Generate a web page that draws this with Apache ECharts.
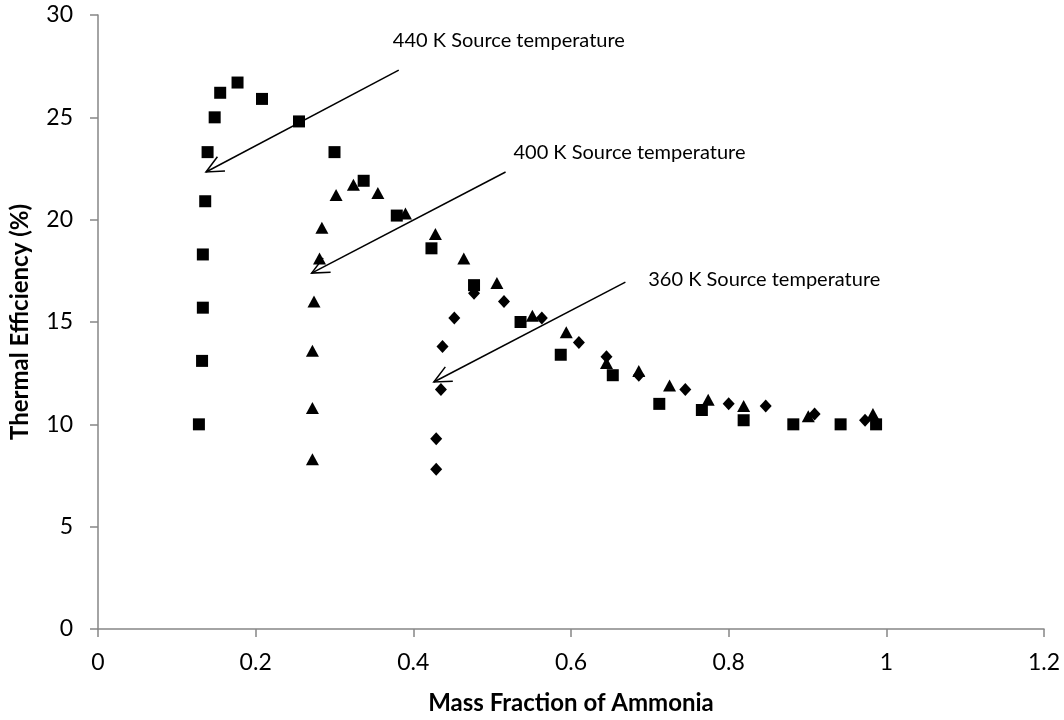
<!DOCTYPE html>
<html>
<head>
<meta charset="utf-8">
<script src="https://cdn.jsdelivr.net/npm/echarts@6/dist/echarts.min.js"></script>
<style>html,body{margin:0;padding:0;background:#fff}#c{width:1064px;height:720px}</style>
</head>
<body>
<div id="c"></div>
<script>
// 440 K source temperature (squares)
var sq440 = [[0.128,10.0],[0.132,13.1],[0.133,15.7],[0.133,18.3],[0.136,20.9],[0.139,23.3],[0.148,25.0],[0.155,26.2],[0.177,26.7],[0.208,25.9],[0.255,24.8],[0.300,23.3],[0.337,21.9],[0.379,20.2],[0.423,18.6],[0.477,16.8],[0.536,15.0],[0.587,13.4],[0.653,12.4],[0.712,11.0],[0.766,10.7],[0.819,10.2],[0.882,10.0],[0.942,10.0],[0.987,10.0]];
// 400 K source temperature (triangles)
var tri400 = [[0.272,8.3],[0.272,10.8],[0.272,13.6],[0.274,16.0],[0.281,18.1],[0.284,19.6],[0.302,21.2],[0.324,21.7],[0.355,21.3],[0.390,20.3],[0.428,19.3],[0.464,18.1],[0.506,16.9],[0.551,15.3],[0.594,14.5],[0.645,13.0],[0.686,12.6],[0.725,11.9],[0.774,11.2],[0.819,10.9],[0.901,10.4],[0.983,10.5]];
// 360 K source temperature (diamonds)
var dia360 = [[0.429,7.8],[0.429,9.3],[0.435,11.7],[0.437,13.8],[0.452,15.2],[0.477,16.4],[0.515,16.0],[0.563,15.2],[0.610,14.0],[0.645,13.3],[0.686,12.4],[0.745,11.7],[0.800,11.0],[0.847,10.9],[0.909,10.5],[0.973,10.2]];

// annotations: arrow tail -> tip (data coords) and label anchor
var arrowLabels = ['440 K Source temperature','400 K Source temperature','360 K Source temperature'];
var arrowTails = [[0.3815,27.31],[0.517,22.33],[0.669,16.95]];
var arrowTips = [[0.137,22.33],[0.271,17.39],[0.426,12.07]];
var labelAnchors = [[0.374,28.77],[0.527,23.3],[0.698,17.05]];

var xTitle = 'Mass Fraction of Ammonia';
var yTitle = 'Thermal Efficiency (%)';

var arrowData = arrowLabels.map(function(t,i){
  return [arrowTails[i][0],arrowTails[i][1],arrowTips[i][0],arrowTips[i][1],labelAnchors[i][0],labelAnchors[i][1],i];
});

var FONT = 'Lato';
var axisGray = '#868686';
var chart = echarts.init(document.getElementById('c'));
chart.setOption({
  animation:false,
  backgroundColor:'#fff',
  grid:{left:97,right:20,top:15,bottom:91,containLabel:false},
  xAxis:{type:'value',min:0,max:1.2,interval:0.2,
    name:xTitle,nameLocation:'middle',nameGap:62,
    nameTextStyle:{fontFamily:FONT,fontWeight:'bold',fontSize:24,color:'#000'},
    axisLine:{lineStyle:{color:axisGray,width:1.5}},
    axisTick:{show:true,inside:false,length:8,lineStyle:{color:axisGray,width:1.5}},
    axisLabel:{fontFamily:FONT,fontSize:23,color:'#000',margin:22,
      formatter:function(v){return String(Math.round(v*10)/10);}},
    splitLine:{show:false}},
  yAxis:{type:'value',min:0,max:30,interval:5,
    name:yTitle,nameLocation:'middle',nameGap:66,nameRotate:90,
    nameTextStyle:{fontFamily:FONT,fontWeight:'bold',fontSize:24,color:'#000'},
    axisLine:{show:true,lineStyle:{color:axisGray,width:1.5}},
    axisTick:{show:true,inside:false,length:8,lineStyle:{color:axisGray,width:1.5}},
    axisLabel:{fontFamily:FONT,fontSize:23,color:'#000',margin:25},
    splitLine:{show:false}},
  series:[
    {type:'scatter',name:'440 K',data:sq440,symbol:'rect',symbolSize:12,itemStyle:{color:'#000',opacity:1}},
    {type:'scatter',name:'400 K',data:tri400,symbol:'triangle',symbolSize:[13,12],itemStyle:{color:'#000',opacity:1}},
    {type:'scatter',name:'360 K',data:dia360,symbol:'diamond',symbolSize:[12,13],itemStyle:{color:'#000',opacity:1}},
    {type:'custom',name:'annotations',data:arrowData,z:5,
      renderItem:function(params,api){
        var tail = api.coord([api.value(0),api.value(1)]);
        var tip = api.coord([api.value(2),api.value(3)]);
        var lab = api.coord([api.value(4),api.value(5)]);
        var idx = api.value(6);
        var ang = Math.atan2(tail[1]-tip[1],tail[0]-tip[0]);
        var L = 19, a = 0.44;
        var p1 = [tip[0]+L*Math.cos(ang+a), tip[1]+L*Math.sin(ang+a)];
        var p2 = [tip[0]+L*Math.cos(ang-a), tip[1]+L*Math.sin(ang-a)];
        return {type:'group',children:[
          {type:'line',shape:{x1:tail[0],y1:tail[1],x2:tip[0],y2:tip[1]},style:{stroke:'#000',lineWidth:1.5}},
          {type:'polyline',shape:{points:[p1,tip,p2]},style:{stroke:'#000',lineWidth:1.5,fill:null}},
          {type:'text',x:lab[0],y:lab[1],style:{text:arrowLabels[idx],fontFamily:FONT,fontSize:20,fill:'#000',textAlign:'left',textVerticalAlign:'middle'}}
        ]};
      }}
  ]
});
</script>
</body>
</html>
